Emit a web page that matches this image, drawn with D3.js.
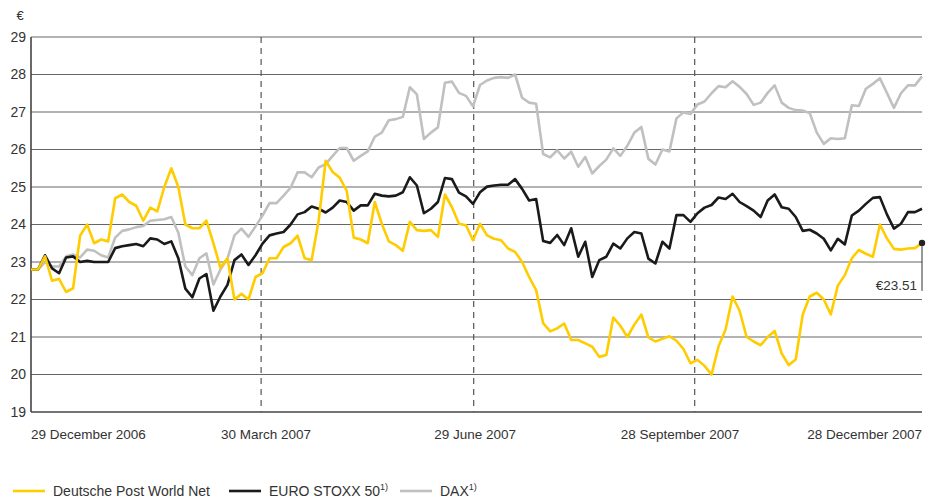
<!DOCTYPE html>
<html>
<head>
<meta charset="utf-8">
<script src="https://cdn.jsdelivr.net/npm/d3@7"></script>
<style>
    body { margin: 0; background: #fff; }
    text { font-family: "Liberation Sans", Arial, sans-serif; fill: #333; }
</style>
</head>
<body>
<div id="chart"></div>
<script>
// Share price values, sampled evenly over the trading year (index 0 .. 127)
var deutschePost = [22.8, 22.8, 23.15, 22.5, 22.55, 22.2, 22.3, 23.7, 24.0, 23.5,
    23.6, 23.55, 24.7, 24.8, 24.6, 24.5, 24.1, 24.45, 24.35, 25.0,
    25.5, 25.0, 24.0, 23.9, 23.9, 24.1, 23.5, 22.85, 23.1, 22.0,
    22.15, 22.0, 22.6, 22.7, 23.1, 23.1, 23.4, 23.5, 23.7, 23.1,
    23.05, 24.1, 25.7, 25.4, 25.25, 24.9, 23.65, 23.6, 23.5, 24.6,
    24.02, 23.55, 23.45, 23.3, 24.07, 23.85, 23.83, 23.85, 23.67, 24.8,
    24.46, 24.02, 23.98, 23.58, 24.02, 23.71, 23.62, 23.58, 23.36, 23.27,
    23.0, 22.6, 22.25, 21.37, 21.15, 21.23, 21.36, 20.92, 20.92, 20.83,
    20.74, 20.47, 20.52, 21.52, 21.3, 21.0, 21.33, 21.6, 20.99, 20.88,
    20.95, 21.02, 20.9, 20.68, 20.3, 20.39, 20.23, 20.0, 20.75, 21.2,
    22.08, 21.7, 21.0, 20.88, 20.78, 21.0, 21.16, 20.56, 20.25, 20.4,
    21.6, 22.08, 22.18, 22.0, 21.6, 22.37, 22.65, 23.1, 23.32, 23.22,
    23.14, 24.0, 23.63, 23.35, 23.33, 23.36, 23.37, 23.51];

var euroStoxx = [22.8, 22.8, 23.18, 22.83, 22.7, 23.12, 23.15, 23.0, 23.03, 23.0,
    23.0, 23.0, 23.37, 23.42, 23.45, 23.48, 23.42, 23.63, 23.6, 23.48,
    23.55, 23.1, 22.29, 22.06, 22.56, 22.68, 21.7, 22.08, 22.39, 23.05,
    23.2, 22.92, 23.18, 23.49, 23.71, 23.76, 23.8, 24.0, 24.27, 24.33,
    24.48, 24.42, 24.32, 24.45, 24.64, 24.6, 24.37, 24.51, 24.51, 24.82,
    24.77, 24.75, 24.77, 24.86, 25.26, 25.04, 24.3, 24.42, 24.6, 25.24,
    25.21, 24.85, 24.75, 24.55, 24.86, 25.01, 25.04, 25.06, 25.06, 25.21,
    24.95, 24.64, 24.68, 23.56, 23.51, 23.72, 23.45, 23.9, 23.14, 23.54,
    22.6, 23.05, 23.14, 23.49, 23.36, 23.63, 23.8, 23.76, 23.09, 22.96,
    23.54, 23.36, 24.25, 24.25, 24.07, 24.3, 24.45, 24.52, 24.72, 24.68,
    24.82, 24.6, 24.49, 24.37, 24.2, 24.64, 24.8, 24.46, 24.42, 24.2,
    23.83, 23.86, 23.76, 23.62, 23.31, 23.62, 23.47, 24.24, 24.37, 24.55,
    24.71, 24.73, 24.27, 23.89, 24.02, 24.33, 24.33, 24.42];

var dax = [22.8, 22.8, 23.0, 22.88, 22.88, 23.15, 23.2, 23.12, 23.33, 23.3,
    23.18, 23.12, 23.65, 23.83, 23.87, 23.93, 23.96, 24.1, 24.12, 24.14,
    24.2, 23.78, 22.88, 22.65, 23.1, 23.23, 22.4, 22.8, 23.09, 23.71,
    23.89, 23.67, 23.95, 24.24, 24.57, 24.57, 24.77, 24.98, 25.39, 25.39,
    25.26, 25.52, 25.61, 25.83, 26.04, 26.04, 25.7, 25.83, 25.95, 26.34,
    26.45, 26.78, 26.81, 26.87, 27.66, 27.47, 26.28, 26.45, 26.59, 27.78,
    27.81, 27.51, 27.43, 27.15, 27.72, 27.84, 27.91, 27.93, 27.91, 28.0,
    27.38, 27.25, 27.22, 25.88, 25.79, 25.98, 25.76, 25.94, 25.54, 25.8,
    25.36, 25.56, 25.73, 26.03, 25.83, 26.1, 26.45, 26.6, 25.75, 25.6,
    26.0, 25.95, 26.83, 26.99, 26.95, 27.2, 27.28, 27.5, 27.69, 27.66,
    27.82, 27.67, 27.48, 27.19, 27.25, 27.51, 27.71, 27.25, 27.11, 27.05,
    27.04, 26.97, 26.45, 26.15, 26.3, 26.28, 26.3, 27.18, 27.16, 27.62,
    27.75, 27.9, 27.51, 27.11, 27.5, 27.71, 27.71, 27.95];

// Quarter markers and date labels (position on the sample index)
var quarterIndex = [32.8, 63.1, 94.6];
var labelIndex = [0, 33.5, 63.3, 92.5, 127];
var tickLabels = ["29 December 2006", "30 March 2007", "29 June 2007", "28 September 2007", "28 December 2007"];
var yTicks = [19, 20, 21, 22, 23, 24, 25, 26, 27, 28, 29];

var seriesNames = ["Deutsche Post World Net", "EURO STOXX 50", "DAX"];
var seriesColors = ["#ffcc00", "#1a1a1a", "#c0c0c0"];
var lastPrice = "€23.51";

var svgWidth = 933;
var svgHeight = 502;
var margin = { top: 37, right: 11, bottom: 90, left: 31 };
var chartWidth = svgWidth - margin.left - margin.right;
var chartHeight = svgHeight - margin.top - margin.bottom;

var svg = d3.select("#chart").append("svg")
    .attr("width", svgWidth)
    .attr("height", svgHeight);

var chartGroup = svg.append("g")
    .attr("transform", `translate(${margin.left}, ${margin.top})`);

var xLinearScale = d3.scaleLinear()
    .domain([0, deutschePost.length - 1])
    .range([0, chartWidth]);

var yLinearScale = d3.scaleLinear()
    .domain([19, 29])
    .range([chartHeight, 0]);

// horizontal grid lines
chartGroup.append("g")
    .selectAll("line")
    .data(yTicks)
    .enter()
    .append("line")
    .attr("x1", 0)
    .attr("x2", chartWidth)
    .attr("y1", d => yLinearScale(d))
    .attr("y2", d => yLinearScale(d))
    .attr("stroke", d => d === 19 ? "#444" : "#666")
    .attr("stroke-width", d => d === 19 ? 1.6 : 1.1);

// quarter markers (dashed)
chartGroup.append("g")
    .selectAll("line")
    .data(quarterIndex)
    .enter()
    .append("line")
    .attr("x1", d => xLinearScale(d))
    .attr("x2", d => xLinearScale(d))
    .attr("y1", 0)
    .attr("y2", chartHeight)
    .attr("stroke", "#555")
    .attr("stroke-width", 1.2)
    .attr("stroke-dasharray", "6,5");

// y axis line
chartGroup.append("line")
    .attr("x1", 0).attr("x2", 0)
    .attr("y1", 0).attr("y2", chartHeight)
    .attr("stroke", "#444")
    .attr("stroke-width", 1.6);

// y tick labels
var leftAxis = d3.axisLeft(yLinearScale)
    .tickValues(yTicks)
    .tickSize(0)
    .tickPadding(5)
    .tickFormat(d3.format("d"));

var yAxisGroup = chartGroup.append("g").call(leftAxis);
yAxisGroup.select(".domain").remove();
yAxisGroup.selectAll("text")
    .style("font-size", "14px")
    .style("font-family", "'Liberation Sans', Arial, sans-serif")
    .attr("fill", "#333");

svg.append("text")
    .attr("x", 20)
    .attr("y", 20)
    .attr("text-anchor", "middle")
    .style("font-size", "13px")
    .text("€");

// x tick labels
chartGroup.append("g")
    .selectAll("text")
    .data(labelIndex)
    .enter()
    .append("text")
    .attr("x", d => xLinearScale(d))
    .attr("y", chartHeight + 27)
    .attr("text-anchor", (d, i) => i === 0 ? "start" : (i === labelIndex.length - 1 ? "end" : "middle"))
    .style("font-size", "13.5px")
    .text((d, i) => tickLabels[i]);

// the three lines, drawn back to front
var lineGen = d3.line()
    .x((d, i) => xLinearScale(i))
    .y(d => yLinearScale(d));

var allSeries = [deutschePost, euroStoxx, dax];
[2, 1, 0].forEach(function (k) {
    chartGroup.append("path")
        .datum(allSeries[k])
        .attr("d", lineGen)
        .attr("fill", "none")
        .attr("stroke", seriesColors[k])
        .attr("stroke-width", 2.6)
        .attr("stroke-linejoin", "round");
});

// closing price marker
var lastIndex = deutschePost.length - 1;
var lastX = xLinearScale(lastIndex);
var lastY = yLinearScale(deutschePost[lastIndex]);

chartGroup.append("line")
    .attr("x1", lastX).attr("x2", lastX)
    .attr("y1", lastY).attr("y2", lastY + 48)
    .attr("stroke", "#333")
    .attr("stroke-width", 1);

chartGroup.append("circle")
    .attr("cx", lastX)
    .attr("cy", lastY)
    .attr("r", 3.2)
    .attr("fill", "#222");

chartGroup.append("text")
    .attr("x", lastX - 5)
    .attr("y", lastY + 47)
    .attr("text-anchor", "end")
    .style("font-size", "13.5px")
    .text(lastPrice);

// legend
var legendX = [13, 229, 400];
var legend = svg.append("g");
seriesNames.forEach(function (name, k) {
    legend.append("line")
        .attr("x1", legendX[k])
        .attr("x2", legendX[k] + 32)
        .attr("y1", 491)
        .attr("y2", 491)
        .attr("stroke", seriesColors[k])
        .attr("stroke-width", 2.6);

    var label = legend.append("text")
        .attr("x", legendX[k] + 40)
        .attr("y", 496)
        .style("font-size", "14px")
        .text(name);

    if (k > 0) {
        label.append("tspan")
            .attr("dy", -6)
            .style("font-size", "9px")
            .text("1)");
    }
});
</script>
</body>
</html>
